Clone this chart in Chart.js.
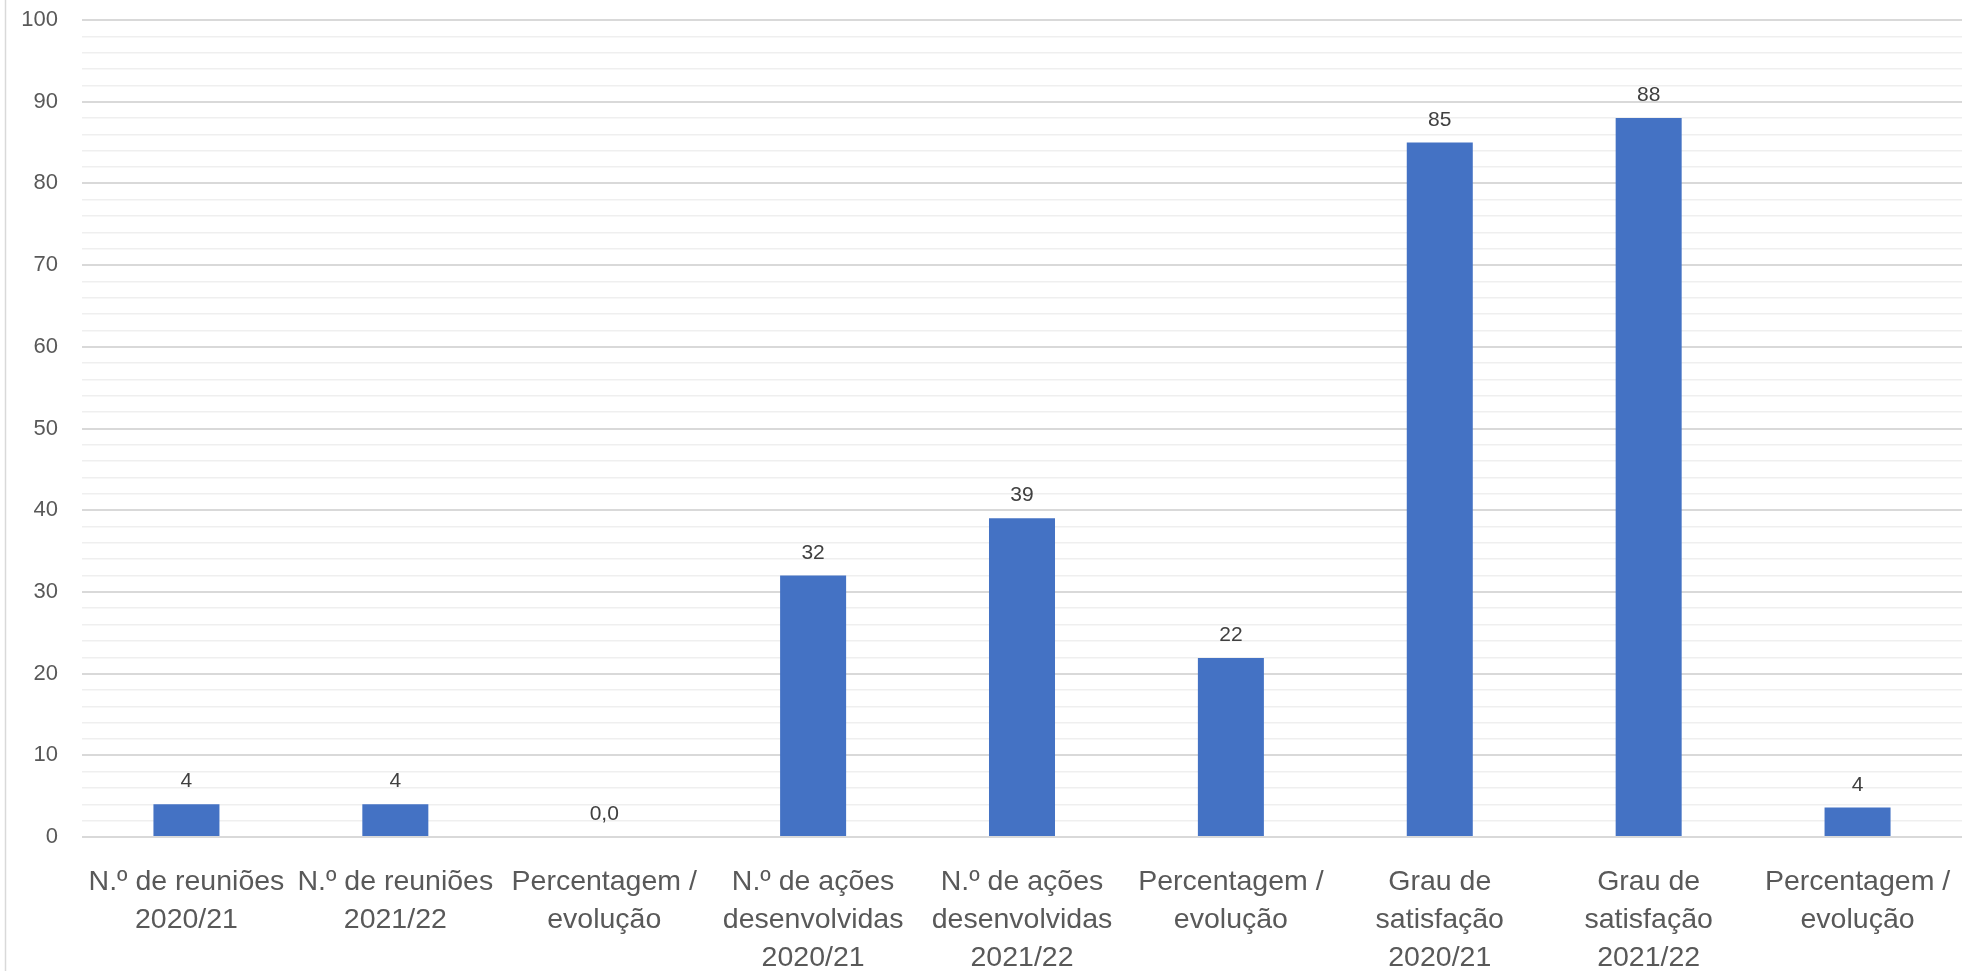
<!DOCTYPE html>
<html>
<head>
<meta charset="utf-8">
<script src="https://cdn.jsdelivr.net/npm/chart.js@4.4.1/dist/chart.umd.min.js"></script>
<style>
html,body{margin:0;padding:0;background:#fff;}
#wrap{position:relative;width:1981px;height:971px;}
</style>
</head>
<body>
<div id="wrap"><canvas id="c" width="1981" height="971"></canvas></div>
<script>
const categories = [
  ["N.º de reuniões", "2020/21"],
  ["N.º de reuniões", "2021/22"],
  ["Percentagem /", "evolução"],
  ["N.º de ações", "desenvolvidas", "2020/21"],
  ["N.º de ações", "desenvolvidas", "2021/22"],
  ["Percentagem /", "evolução"],
  ["Grau de", "satisfação", "2020/21"],
  ["Grau de", "satisfação", "2021/22"],
  ["Percentagem /", "evolução"]
];
const values = [4, 4, 0, 32, 39, 21.9, 85, 88, 3.6];
const valueLabels = ["4", "4", "0,0", "32", "39", "22", "85", "88", "4"];
const yMin = 0, yMax = 100, yMinorStep = 2, yMajorStep = 10;

const FONT = "'Liberation Sans', Arial, sans-serif";

const dataLabelPlugin = {
  id: 'dataLabels',
  afterDatasetsDraw(chart) {
    const ctx = chart.ctx;
    const meta = chart.getDatasetMeta(0);
    ctx.save();
    ctx.font = "21px " + FONT;
    ctx.fillStyle = "#404040";
    ctx.textAlign = "center";
    ctx.textBaseline = "alphabetic";
    meta.data.forEach((el, i) => {
      ctx.fillText(valueLabels[i], el.x, el.y - 17);
    });
    ctx.restore();
  }
};

const framePlugin = {
  id: 'frame',
  beforeDraw(chart) {
    const ctx = chart.ctx;
    ctx.save();
    ctx.strokeStyle = "#d9d9d9";
    ctx.lineWidth = 1.5;
    ctx.beginPath();
    ctx.moveTo(5.5, 0);
    ctx.lineTo(5.5, chart.height);
    ctx.stroke();
    ctx.restore();
  }
};

new Chart(document.getElementById('c'), {
  type: 'bar',
  data: {
    labels: categories,
    datasets: [{
      data: values,
      backgroundColor: '#4472C4',
      borderWidth: 0,
      barPercentage: 0.316,
      categoryPercentage: 1.0
    }]
  },
  options: {
    responsive: false,
    animation: false,
    devicePixelRatio: 1,
    layout: { padding: { top: 20, left: 6, right: 19, bottom: 0 } },
    plugins: { legend: { display: false }, tooltip: { enabled: false } },
    scales: {
      x: {
        grid: { display: false, drawTicks: false },
        border: { display: false },
        ticks: {
          autoSkip: false, maxRotation: 0, minRotation: 0,
          color: '#595959',
          font: { family: FONT, size: 28.5, lineHeight: 1.333 },
          padding: 26
        },
        afterFit(scale) {
          scale.height = 134;
          scale.paddingLeft = 0; scale.paddingRight = 0;
          scale.paddingTop = 0; scale.paddingBottom = 0;
        }
      },
      y: {
        min: yMin, max: yMax,
        grid: {
          drawTicks: false,
          color: c => (c.tick && c.tick.value % yMajorStep === 0) ? '#d9d9d9' : '#efefef',
          lineWidth: c => (c.tick && c.tick.value % yMajorStep === 0) ? 2 : 1.5
        },
        border: { display: false },
        ticks: {
          stepSize: yMinorStep,
          autoSkip: false,
          color: '#595959',
          font: { family: FONT, size: 22 },
          padding: 24,
          callback: v => (v % yMajorStep === 0) ? String(v) : ''
        },
        afterFit(scale) {
          scale.width = 76;
          scale.paddingTop = 0; scale.paddingBottom = 0;
          scale.paddingLeft = 0; scale.paddingRight = 0;
        }
      }
    }
  },
  plugins: [dataLabelPlugin, framePlugin]
});
</script>
</body>
</html>
